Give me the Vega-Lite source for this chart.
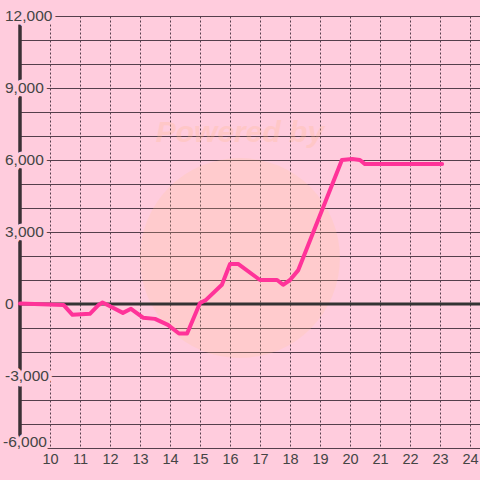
{
  "$schema": "https://vega.github.io/schema/vega-lite/v6.json",
  "width": 460,
  "height": 432,
  "autosize": "none",
  "padding": {"left": 20, "top": 16, "right": 0, "bottom": 32},
  "background": "#ffccdd",
  "config": {
    "view": {"stroke": null},
    "font": "Liberation Sans",
    "axisX": {"labels": true, "labelFontSize": 14.5, "labelColor": "#444444", "labelPadding": 4, "ticks": false, "domain": false, "grid": true, "gridColor": "#553f4c", "gridDash": [2, 2], "gridWidth": 1},
    "axisY": {"labels": false, "ticks": false, "domain": false, "grid": true, "gridColor": "#553f4c", "gridWidth": 1}
  },
  "datasets": {
    "series": [
      {"x": 9, "y": 20}, {"x": 10.45, "y": -40}, {"x": 10.75, "y": -450}, {"x": 11.33, "y": -410},
      {"x": 11.62, "y": -40}, {"x": 11.75, "y": 60}, {"x": 12.0, "y": -90}, {"x": 12.43, "y": -370},
      {"x": 12.7, "y": -200}, {"x": 13.1, "y": -570}, {"x": 13.5, "y": -620}, {"x": 13.93, "y": -870},
      {"x": 14.3, "y": -1230}, {"x": 14.57, "y": -1230}, {"x": 15.0, "y": 40}, {"x": 15.2, "y": 170},
      {"x": 15.73, "y": 800}, {"x": 16.0, "y": 1670}, {"x": 16.27, "y": 1670}, {"x": 17.0, "y": 1000},
      {"x": 17.57, "y": 1000}, {"x": 17.77, "y": 800}, {"x": 18.0, "y": 1000}, {"x": 18.27, "y": 1400},
      {"x": 19.73, "y": 6000}, {"x": 20.07, "y": 6040}, {"x": 20.33, "y": 6000}, {"x": 20.5, "y": 5830},
      {"x": 23.07, "y": 5830}
    ],
    "ylabels": [
      {"v": 12000, "label": "12,000"}, {"v": 9000, "label": "9,000"}, {"v": 6000, "label": "6,000"},
      {"v": 3000, "label": "3,000"}, {"v": 0, "label": "0"}, {"v": -3000, "label": "-3,000"},
      {"v": -6000, "label": "-6,000"}
    ],
    "one": [{"w": "Powered by"}]
  },
  "layer": [
    {
      "data": {"name": "series"},
      "mark": {"type": "line", "opacity": 0},
      "encoding": {
        "x": {"field": "x", "type": "quantitative", "title": null,
              "scale": {"domain": [9, 24.333], "nice": false, "zero": false},
              "axis": {"values": [10, 11, 12, 13, 14, 15, 16, 17, 18, 19, 20, 21, 22, 23, 24]}},
        "y": {"field": "y", "type": "quantitative", "title": null,
              "scale": {"domain": [-6000, 12000], "nice": false, "zero": false},
              "axis": {"values": [-6000, -5000, -4000, -3000, -2000, -1000, 0, 1000, 2000, 3000, 4000, 5000, 6000, 7000, 8000, 9000, 10000, 11000, 12000]}}
      }
    },
    {
      "data": {"name": "one"},
      "mark": {"type": "point", "shape": "circle", "filled": true, "size": 40000, "color": "#ffc890", "opacity": 0.2},
      "encoding": {
        "x": {"datum": 16.33, "type": "quantitative", "title": null,
              "axis": {"values": [10, 11, 12, 13, 14, 15, 16, 17, 18, 19, 20, 21, 22, 23, 24]}},
        "y": {"datum": 1917, "type": "quantitative", "title": null,
              "axis": {"values": [-6000, -5000, -4000, -3000, -2000, -1000, 0, 1000, 2000, 3000, 4000, 5000, 6000, 7000, 8000, 9000, 10000, 11000, 12000]}}
      }
    },
    {
      "data": {"name": "one"},
      "mark": {"type": "text", "fontSize": 30, "fontWeight": "bold", "fontStyle": "italic", "color": "#ffbb88", "opacity": 0.25, "align": "center", "baseline": "middle"},
      "encoding": {
        "x": {"datum": 16.33, "type": "quantitative", "title": null,
              "axis": {"values": [10, 11, 12, 13, 14, 15, 16, 17, 18, 19, 20, 21, 22, 23, 24]}},
        "y": {"datum": 7125, "type": "quantitative", "title": null,
              "axis": {"values": [-6000, -5000, -4000, -3000, -2000, -1000, 0, 1000, 2000, 3000, 4000, 5000, 6000, 7000, 8000, 9000, 10000, 11000, 12000]}},
        "text": {"field": "w"}
      }
    },
    {
      "data": {"name": "one"},
      "mark": {"type": "rule", "color": "#333333", "strokeWidth": 3},
      "encoding": {
        "y": {"datum": 0, "type": "quantitative", "title": null,
              "axis": {"values": [-6000, -5000, -4000, -3000, -2000, -1000, 0, 1000, 2000, 3000, 4000, 5000, 6000, 7000, 8000, 9000, 10000, 11000, 12000]}}
      }
    },
    {
      "data": {"name": "one"},
      "mark": {"type": "rule", "color": "#3a3035", "strokeWidth": 3.5},
      "encoding": {
        "x": {"datum": 9, "type": "quantitative", "title": null,
              "axis": {"values": [10, 11, 12, 13, 14, 15, 16, 17, 18, 19, 20, 21, 22, 23, 24]}}
      }
    },
    {
      "data": {"name": "ylabels"},
      "transform": [{"filter": "datum.v > -6000"}],
      "mark": {"type": "text", "fontSize": 15.5, "align": "left", "baseline": "middle", "dx": -15, "fill": "#ffccdd", "stroke": "#ffccdd", "strokeWidth": 7, "strokeJoin": "round"},
      "encoding": {
        "x": {"datum": 9, "type": "quantitative", "title": null,
              "axis": {"values": [10, 11, 12, 13, 14, 15, 16, 17, 18, 19, 20, 21, 22, 23, 24]}},
        "y": {"field": "v", "type": "quantitative", "title": null,
              "axis": {"values": [-6000, -5000, -4000, -3000, -2000, -1000, 0, 1000, 2000, 3000, 4000, 5000, 6000, 7000, 8000, 9000, 10000, 11000, 12000]}},
        "text": {"field": "label"}
      }
    },
    {
      "data": {"name": "ylabels"},
      "transform": [{"filter": "datum.v > -6000"}],
      "mark": {"type": "text", "fontSize": 15.5, "align": "left", "baseline": "middle", "dx": -15, "color": "#444444"},
      "encoding": {
        "x": {"datum": 9, "type": "quantitative", "title": null,
              "axis": {"values": [10, 11, 12, 13, 14, 15, 16, 17, 18, 19, 20, 21, 22, 23, 24]}},
        "y": {"field": "v", "type": "quantitative", "title": null,
              "axis": {"values": [-6000, -5000, -4000, -3000, -2000, -1000, 0, 1000, 2000, 3000, 4000, 5000, 6000, 7000, 8000, 9000, 10000, 11000, 12000]}},
        "text": {"field": "label"}
      }
    },
    {
      "data": {"name": "ylabels"},
      "transform": [{"filter": "datum.v == -6000"}],
      "mark": {"type": "text", "fontSize": 15.5, "align": "left", "baseline": "alphabetic", "dx": -17, "dy": -1, "fill": "#ffccdd", "stroke": "#ffccdd", "strokeWidth": 7, "strokeJoin": "round"},
      "encoding": {
        "x": {"datum": 9, "type": "quantitative", "title": null,
              "axis": {"values": [10, 11, 12, 13, 14, 15, 16, 17, 18, 19, 20, 21, 22, 23, 24]}},
        "y": {"field": "v", "type": "quantitative", "title": null,
              "axis": {"values": [-6000, -5000, -4000, -3000, -2000, -1000, 0, 1000, 2000, 3000, 4000, 5000, 6000, 7000, 8000, 9000, 10000, 11000, 12000]}},
        "text": {"field": "label"}
      }
    },
    {
      "data": {"name": "ylabels"},
      "transform": [{"filter": "datum.v == -6000"}],
      "mark": {"type": "text", "fontSize": 15.5, "align": "left", "baseline": "alphabetic", "dx": -17, "dy": -1, "color": "#444444"},
      "encoding": {
        "x": {"datum": 9, "type": "quantitative", "title": null,
              "axis": {"values": [10, 11, 12, 13, 14, 15, 16, 17, 18, 19, 20, 21, 22, 23, 24]}},
        "y": {"field": "v", "type": "quantitative", "title": null,
              "axis": {"values": [-6000, -5000, -4000, -3000, -2000, -1000, 0, 1000, 2000, 3000, 4000, 5000, 6000, 7000, 8000, 9000, 10000, 11000, 12000]}},
        "text": {"field": "label"}
      }
    },
    {
      "data": {"name": "series"},
      "mark": {"type": "line", "color": "#ff3399", "strokeWidth": 4, "strokeJoin": "round", "strokeCap": "round"},
      "encoding": {
        "x": {"field": "x", "type": "quantitative", "title": null,
              "axis": {"values": [10, 11, 12, 13, 14, 15, 16, 17, 18, 19, 20, 21, 22, 23, 24]}},
        "y": {"field": "y", "type": "quantitative", "title": null,
              "axis": {"values": [-6000, -5000, -4000, -3000, -2000, -1000, 0, 1000, 2000, 3000, 4000, 5000, 6000, 7000, 8000, 9000, 10000, 11000, 12000]}}
      }
    }
  ]
}
